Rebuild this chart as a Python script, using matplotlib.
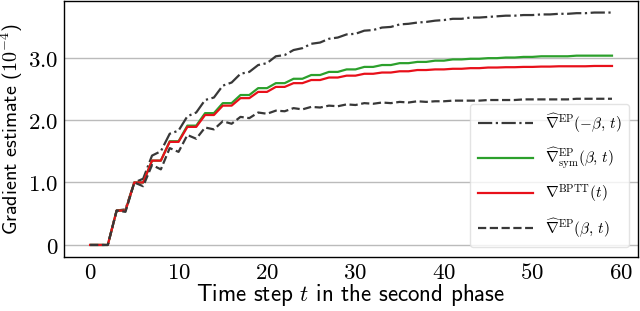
import matplotlib
matplotlib.use("Agg")
import matplotlib.pyplot as plt

# time steps of the second phase
steps = list(range(60))

# gradient estimates (x 1e-4)
ep_neg_beta = [0, 0, 0, 0.55, 0.57, 1.00, 1.06, 1.43, 1.50, 1.78,
               1.83, 2.06, 2.12, 2.32, 2.36, 2.55, 2.60, 2.74, 2.77, 2.88,
               2.91, 3.02, 3.04, 3.12, 3.15, 3.22, 3.24, 3.30, 3.32, 3.37,
               3.38, 3.43, 3.44, 3.48, 3.49, 3.53, 3.54, 3.56, 3.57, 3.59,
               3.60, 3.62, 3.62, 3.64, 3.64, 3.65, 3.66, 3.67, 3.67, 3.68,
               3.68, 3.69, 3.69, 3.70, 3.70, 3.71, 3.71, 3.72, 3.72, 3.72]
ep_sym = [0, 0, 0, 0.55, 0.55, 1.00, 1.00, 1.35, 1.35, 1.66,
          1.66, 1.91, 1.91, 2.11, 2.11, 2.27, 2.27, 2.40, 2.40, 2.51,
          2.51, 2.59, 2.59, 2.66, 2.66, 2.72, 2.72, 2.77, 2.77, 2.81,
          2.81, 2.85, 2.85, 2.88, 2.88, 2.91, 2.91, 2.93, 2.93, 2.95,
          2.95, 2.97, 2.97, 2.98, 2.98, 2.99, 2.99, 3.00, 3.00, 3.01,
          3.01, 3.02, 3.02, 3.02, 3.02, 3.03, 3.03, 3.03, 3.03, 3.03]
bptt = [0, 0, 0, 0.55, 0.55, 1.00, 1.00, 1.35, 1.35, 1.65,
        1.65, 1.89, 1.89, 2.08, 2.08, 2.23, 2.23, 2.35, 2.35, 2.45,
        2.45, 2.53, 2.53, 2.59, 2.59, 2.64, 2.64, 2.68, 2.68, 2.71,
        2.71, 2.74, 2.74, 2.76, 2.76, 2.78, 2.78, 2.80, 2.80, 2.81,
        2.81, 2.82, 2.82, 2.83, 2.83, 2.84, 2.84, 2.845, 2.845, 2.85,
        2.85, 2.855, 2.855, 2.86, 2.86, 2.86, 2.86, 2.865, 2.865, 2.865]
ep_beta = [0, 0, 0, 0.55, 0.53, 1.00, 0.94, 1.28, 1.21, 1.55,
           1.49, 1.76, 1.70, 1.88, 1.85, 1.98, 1.94, 2.05, 2.03, 2.12,
           2.10, 2.15, 2.14, 2.19, 2.17, 2.21, 2.20, 2.23, 2.22, 2.25,
           2.24, 2.27, 2.26, 2.28, 2.27, 2.29, 2.28, 2.30, 2.29, 2.30,
           2.30, 2.31, 2.31, 2.31, 2.31, 2.32, 2.32, 2.32, 2.32, 2.33,
           2.33, 2.33, 2.33, 2.33, 2.33, 2.34, 2.34, 2.34, 2.34, 2.34]

labels = [r'$\widehat{\nabla}^{\rm EP}(-\beta,\, t)$',
          r'$\widehat{\nabla}^{\rm EP}_{\rm sym}(\beta,\, t)$',
          r'$\nabla^{\rm BPTT}(t)$',
          r'$\widehat{\nabla}^{\rm EP}(\beta,\, t)$']

xticks = [0, 10, 20, 30, 40, 50, 60]
xtick_labels = ['$0$', '$10$', '$20$', '$30$', '$40$', '$50$', '$60$']
yticks = [0, 1, 2, 3]
ytick_labels = ['$0$', '$1.0$', '$2.0$', '$3.0$']

plt.rcParams['mathtext.fontset'] = 'cm'

fig = plt.figure(figsize=(6.4, 3.11), dpi=100)
ax = fig.add_axes([0.1, 0.175, 0.897, 0.822])

ax.plot(steps, ep_neg_beta, color='#383838', linestyle='-.', linewidth=1.6, label=labels[0])
ax.plot(steps, ep_sym, color='#2ca02c', linestyle='-', linewidth=1.6, label=labels[1])
ax.plot(steps, bptt, color='#e8101a', linestyle='-', linewidth=1.6, label=labels[2])
ax.plot(steps, ep_beta, color='#383838', linestyle='--', linewidth=1.6, label=labels[3])

ax.set_xticks(xticks)
ax.set_xticklabels(xtick_labels)
ax.set_yticks(yticks)
ax.set_yticklabels(ytick_labels)
ax.tick_params(axis='x', length=0, labelsize=16.5, pad=3)
ax.tick_params(axis='y', length=0, labelsize=16.5, pad=4)

ax.grid(axis='y', color='#bbbbbb', linewidth=1)
ax.set_axisbelow(True)
for sp in ax.spines.values():
    sp.set_color('black')
    sp.set_linewidth(1.0)

ax.set_xlabel(r'Time step $t$ in the second phase', family='cmss10', fontsize=16.5, labelpad=-1)
ax.set_ylabel(r'Gradient estimate ($10^{-4}$)', family='cmss10', fontsize=14.5, labelpad=2)

leg = ax.legend(loc='lower right', fontsize=11, handlelength=3.6, labelspacing=0.75,
                frameon=True, fancybox=True, framealpha=0.8, edgecolor='#dddddd',
                borderpad=0.5, borderaxespad=0.6)

fig.savefig('out.png', dpi=100)
